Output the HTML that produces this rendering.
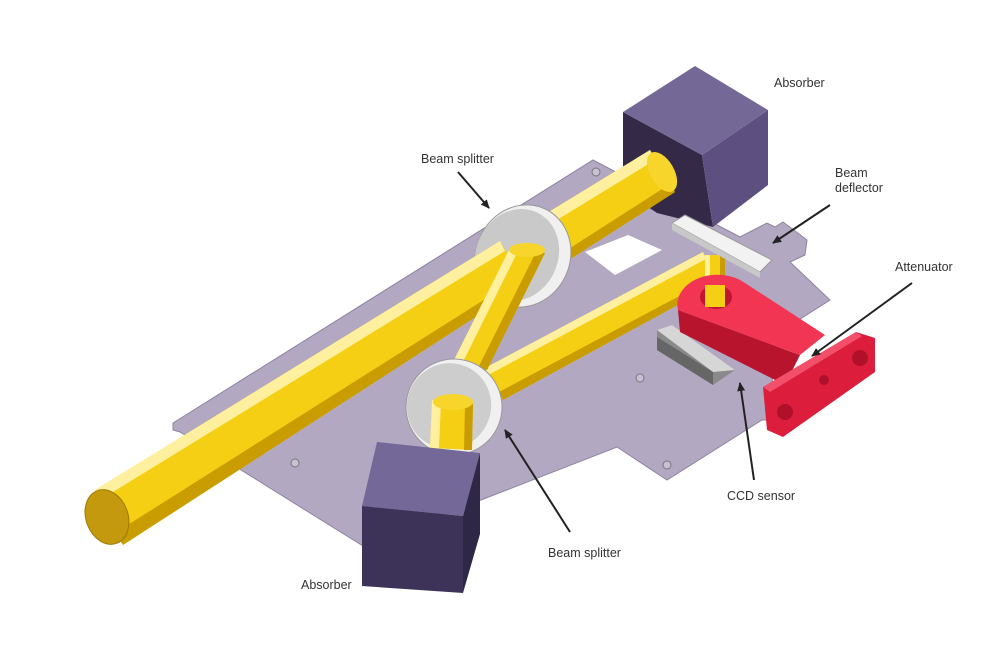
<!DOCTYPE html>
<html><head><meta charset="utf-8"><style>
html,body{margin:0;padding:0;background:#fff;}
svg{display:block;}
text{font-family:"Liberation Sans",sans-serif;font-size:12.5px;fill:#333;}
</style></head><body>
<svg width="1000" height="667" viewBox="0 0 1000 667" xmlns="http://www.w3.org/2000/svg">
<defs>
<marker id="ah" markerWidth="10" markerHeight="10" refX="8" refY="5" orient="auto" markerUnits="userSpaceOnUse">
<path d="M0,1 L9,5 L0,9 Z" fill="#222"/></marker>
</defs>

<!-- plate -->
<polygon points="173,423 593,160 740,237 767,223 775,227 783,222 807,240 805,255 790,262 830,300 775,335 770,420 762,420 667,480 617,447 363,546 180,432 173,430" fill="#b3a8c2" stroke="#8d84a0" stroke-width="1"/>
<polygon points="585,252 628,235 662,250 615,275" fill="#fff"/>
<circle cx="596" cy="172" r="4" fill="#c8c0d4" stroke="#777"/>
<circle cx="295" cy="463" r="4" fill="#c8c0d4" stroke="#777"/>
<circle cx="640" cy="378" r="4" fill="#c8c0d4" stroke="#777"/>
<circle cx="667" cy="465" r="4" fill="#c8c0d4" stroke="#777"/>

<!-- top absorber -->
<polygon points="623,112 702,155 713,227 657,213 623,190" fill="#342a48"/>
<polygon points="702,155 768,110 768,185 713,227" fill="#5d5080"/>
<polygon points="623,112 695,66 768,110 702,155" fill="#746897"/>

<!-- long rod right part (behind disk) -->
<polygon points="480,254 650,150 675,192 505,301" fill="#f5cf14"/>
<polygon points="480,254 650,150 655,160 485,264" fill="#fff0a0"/>
<polygon points="500,293 670,184 675,192 505,301" fill="#c99d00"/>
<ellipse cx="662" cy="172" rx="12" ry="22" transform="rotate(-30 662 172)" fill="#f7d52a"/>

<!-- rod 2 -->
<polygon points="485,368 703,252 720,282 503,400" fill="#f5cf14"/>
<polygon points="485,368 703,252 706,259 488,375" fill="#fff0a0"/>
<polygon points="499,392 717,276 720,282 503,400" fill="#c99d00"/>
<!-- vertical rod -->
<rect x="705" y="255" width="20" height="52" fill="#f5cf14"/>
<rect x="705" y="255" width="5" height="52" fill="#fff0a0"/>
<rect x="720" y="255" width="5" height="52" fill="#c99d00"/>

<!-- deflector -->
<polygon points="672,223 685,215 772,260 760,272" fill="#f2f2f2" stroke="#999"/>
<polygon points="672,223 760,272 760,278 672,230" fill="#c8c8c8"/>

<!-- splitter 1 -->
<ellipse cx="523" cy="256" rx="47" ry="52" transform="rotate(25 523 256)" fill="#f0f0f0" stroke="#999"/>
<ellipse cx="517" cy="255" rx="41" ry="47" transform="rotate(25 517 255)" fill="#c9c9c9"/>

<!-- long rod left part -->
<polygon points="95,490 500,241 525,285 123,545" fill="#f5cf14"/>
<polygon points="95,490 500,241 505,251 100,500" fill="#fff0a0"/>
<polygon points="115,533 520,277 525,285 123,545" fill="#c99d00"/>
<ellipse cx="107" cy="517" rx="21" ry="28" transform="rotate(-20 107 517)" fill="#c4990e" stroke="#9c7a08"/>

<!-- diagonal rod -->
<polygon points="510,248 545,253 487,370 453,362" fill="#f5cf14"/>
<polygon points="510,248 519,249 462,364 453,362" fill="#fff0a0"/>
<polygon points="536,252 545,253 487,370 478,368" fill="#c99d00"/>
<ellipse cx="527" cy="250" rx="18" ry="7" fill="#f7d52a"/>

<!-- splitter 2 -->
<ellipse cx="454" cy="407" rx="48" ry="48" transform="rotate(25 454 407)" fill="#f0f0f0" stroke="#999"/>
<ellipse cx="449" cy="406" rx="42" ry="43" transform="rotate(25 449 406)" fill="#cdcdcd"/>
<polygon points="432,400 473,404 472,450 430,448" fill="#f5cf14"/>
<polygon points="432,400 441,401 439,449 430,448" fill="#fff0a0"/>
<polygon points="465,403 473,404 472,450 464,450" fill="#c99d00"/>
<ellipse cx="453" cy="402" rx="20" ry="8" fill="#f7d52a"/>

<!-- bottom absorber -->
<polygon points="377,442 480,453 463,516 362,506" fill="#736897"/>
<polygon points="362,506 463,516 463,593 362,586" fill="#3d3358"/>
<polygon points="463,516 480,453 480,534 463,593" fill="#2f2746"/>

<!-- CCD -->
<polygon points="657,330 672,325 735,370 713,385 657,350" fill="#8a8a8a"/>
<polygon points="657,330 672,325 735,370 713,372" fill="#d6d6d6"/>
<polygon points="657,350 713,385 713,372 657,337" fill="#666"/>

<!-- attenuator -->
<polygon points="678,310 800,355 785,385 680,332" fill="#b8142e"/>
<path d="M678,310 A40,30 0 0 1 745,283 L825,335 L800,355 Z" fill="#f23552"/>
<ellipse cx="716" cy="297" rx="16" ry="12" fill="#c01632"/>
<rect x="705" y="285" width="20" height="22" fill="#f5cf14"/>
<polygon points="763,387 856,332 875,338 875,372 783,437 767,430" fill="#dc1e3c"/>
<polygon points="763,387 856,332 862,336 770,392" fill="#f2506a"/>
<circle cx="785" cy="412" r="8" fill="#b0102a"/>
<circle cx="824" cy="380" r="5" fill="#b0102a"/>
<circle cx="860" cy="358" r="8" fill="#b0102a"/>

<!-- arrows -->
<g stroke="#222" stroke-width="2" fill="none">
<line x1="458" y1="172" x2="489" y2="208" marker-end="url(#ah)"/>
<line x1="830" y1="205" x2="773" y2="243" marker-end="url(#ah)"/>
<line x1="912" y1="283" x2="812" y2="356" marker-end="url(#ah)"/>
<line x1="754" y1="480" x2="740" y2="383" marker-end="url(#ah)"/>
<line x1="570" y1="532" x2="505" y2="430" marker-end="url(#ah)"/>
</g>

<text x="774" y="87">Absorber</text>
<text x="421" y="163">Beam splitter</text>
<text x="835" y="177">Beam</text>
<text x="835" y="192">deflector</text>
<text x="895" y="271">Attenuator</text>
<text x="727" y="500">CCD sensor</text>
<text x="548" y="557">Beam splitter</text>
<text x="301" y="589">Absorber</text>
</svg>
</body></html>
